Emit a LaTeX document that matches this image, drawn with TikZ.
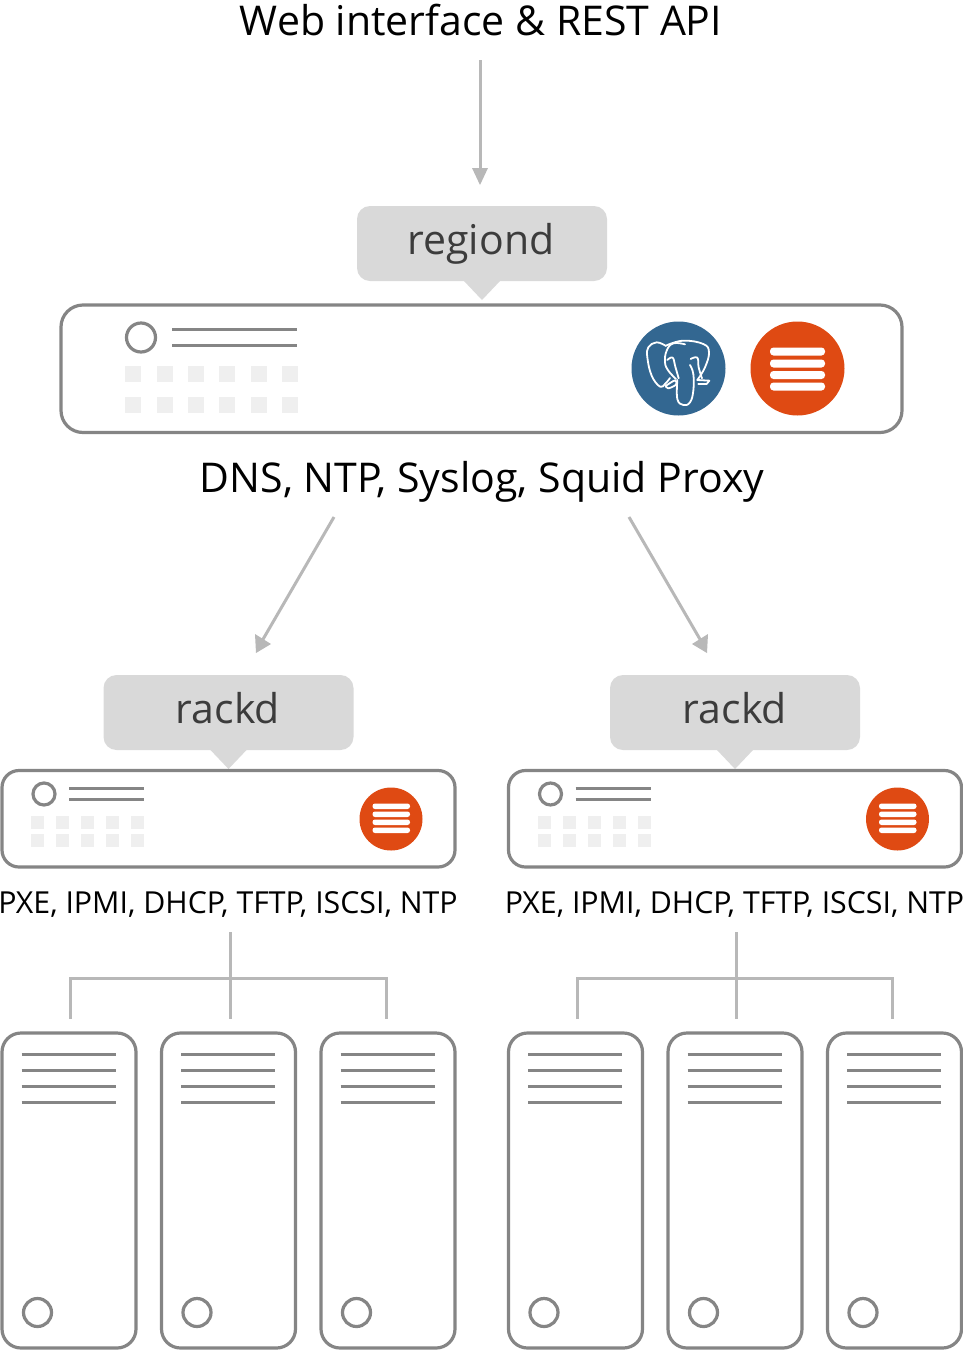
\documentclass[tikz,border=0pt]{standalone}
\usepackage{fontspec}
\setmainfont{Open Sans}
\definecolor{boxline}{HTML}{858585}
\definecolor{arrowgrey}{HTML}{B8B8B8}
\definecolor{tagfill}{HTML}{D9D9D9}
\definecolor{tagtext}{HTML}{3C3C3C}
\definecolor{ledfill}{HTML}{EFEFEF}
\definecolor{ubuntuorange}{HTML}{DF4A13}
\definecolor{pgblue}{HTML}{336791}
\tikzset{
  hostbox/.style={draw=boxline,line width=3.2pt,fill=white,rounded corners=22pt},
  rackbox/.style={draw=boxline,line width=3.2pt,fill=white,rounded corners=17pt},
  ruleline/.style={draw=boxline,line width=3pt},
  flow/.style={draw=arrowgrey,line width=3pt},
  tip/.style={fill=arrowgrey,draw=none},
  tag/.style={fill=tagfill,rounded corners=13pt,draw=none},
  led/.style={fill=ledfill,draw=none},
  knob/.style={draw=boxline,line width=3.2pt,fill=white},
  caption/.style={inner sep=0pt,anchor=base,text=black},
  tagname/.style={inner sep=0pt,anchor=base,text=tagtext},
  bigfont/.style={font=\fontsize{41}{48}\selectfont},
  smallfont/.style={font=\fontsize{30.3}{36}\selectfont},
  bar/.style={fill=white,draw=none,rounded corners=2.5pt},
  eleph/.style={draw=white,line width=1.8pt,line cap=round,line join=round}
}
\newcommand{\tagshape}[2]{% left, top
  \fill[tag] (#1,#2) rectangle ++(250,75);
  \fill[tagfill] (#1+106,#2+74) -- (#1+144,#2+74) -- (#1+125,#2+94) -- cycle;
}
\newcommand{\rackunit}[1]{% left x
  \begin{scope}[shift={(#1,0)}]
    \draw[rackbox] (2,770.5) rectangle (455,867);
    \draw[knob] (44,794) circle (11);
    \draw[ruleline] (69,788) -- (144,788);
    \draw[ruleline] (69,799) -- (144,799);
    \foreach \x in {31,56,81,106,131}{
      \fill[led] (\x,815.5) rectangle ++(13,13);
      \fill[led] (\x,834) rectangle ++(13,13);
    }
    \fill[ubuntuorange] (391,819) circle (31.5);
    \foreach \y in {803.5,811.5,819.5,827.5}
      \fill[bar] (372.5,\y) rectangle (410,\y+5.5);
    \foreach \x in {2,161.5,321}{
      \draw[hostbox,rounded corners=19pt] (\x,1033) rectangle ++(134,315);
      \foreach \y in {1054.5,1070.5,1086,1102}
        \draw[ruleline] (\x+19.5,\y) -- ++(94,0);
      \draw[knob] (\x+35.5,1312.5) circle (14);
    }
    \draw[flow] (70.5,1019) -- (70.5,978) -- (386,978) -- (386,1019);
    \draw[flow] (230,932) -- (230,1019);
  \end{scope}
}
\begin{document}
\begin{tikzpicture}[x=1pt,y=-1pt]
\useasboundingbox (0,0) rectangle (963,1350);
\node[caption,bigfont] (web) at (481,35) {Web interface \& REST API};
\coordinate (a1s) at (480,60);
\coordinate (a1e) at (480,170);
\draw[flow] (a1s) -- (a1e);
\fill[tip] (472,168) -- (488,168) -- (480,185) -- cycle;
\tagshape{357}{206}
\node[tagname,bigfont] (regiond) at (481,254) {regiond};
\draw[hostbox] (61,305) rectangle (902,432.5);
\draw[knob] (141,337.5) circle (14.5);
\draw[ruleline] (172,329) -- (297,329);
\draw[ruleline] (172,345) -- (297,345);
\foreach \x in {125,156.5,187.5,219,250.5,281.5}{
  \fill[led] (\x,366) rectangle ++(16,16);
  \fill[led] (\x,397) rectangle ++(16,16);
}
\fill[pgblue] (678.5,368.5) circle (47);
\begin{scope}[shift={(620,310)},x=0.3333pt,y=-0.3333pt]
  \draw[eleph] plot[smooth,tension=0.7] coordinates {(138,108) (110,97) (85,112) (82,142) (95,197) (120,230) (135,222) (150,204)};
  \draw[eleph] plot[smooth,tension=0.7] coordinates {(195,103) (160,100) (140,122) (135,157) (145,182) (168,207)};
  \draw[eleph] plot[smooth,tension=0.7] coordinates {(140,106) (190,92) (250,102) (267,127) (255,172) (232,210)};
  \draw[eleph] plot[smooth,tension=0.7] coordinates {(172,210) (172,267) (190,285) (210,277) (220,242) (220,192) (210,165)};
  \draw[eleph] plot[smooth,tension=0.6] coordinates {(137,228) (165,211) (168,224) (145,235) (137,228)};
  \draw[eleph] (232,210) -- (268,212) -- (260,222) -- (235,222);
  \draw[eleph] plot[smooth,tension=0.7] coordinates {(142,150) (158,143) (166,170) (176,205)};
  \draw[eleph] plot[smooth,tension=0.7] coordinates {(212,147) (232,143) (236,172) (246,205)};
\end{scope}
\fill[ubuntuorange] (797.5,368.5) circle (47);
\foreach \y in {347.5,359.5,371,382.5}
  \fill[bar,rounded corners=3.5pt] (770,\y) rectangle (825,\y+8);
\node[caption,bigfont] (svc) at (482,492) {DNS, NTP, Syslog, Squid Proxy};
\coordinate (l1) at (334,517);
\coordinate (l2) at (262,641);
\coordinate (r1) at (629,517);
\coordinate (r2) at (701,641);
\draw[flow] (l1) -- (l2);
\draw[flow] (r1) -- (r2);
\fill[tip] (255,634) -- (271,644) -- (256,653) -- cycle;
\fill[tip] (708,634) -- (692,644) -- (707,653) -- cycle;
\tagshape{103.5}{675}
\tagshape{610}{675}
\node[tagname,bigfont] (rl) at (228,723) {rackd};
\node[tagname,bigfont] (rr) at (735,723) {rackd};
\rackunit{0}
\rackunit{506.5}
\node[caption,smallfont] (pl) at (228,913) {PXE, IPMI, DHCP, TFTP, ISCSI, NTP};
\node[caption,smallfont] (pr) at (734.5,913) {PXE, IPMI, DHCP, TFTP, ISCSI, NTP};
\end{tikzpicture}
\end{document}
